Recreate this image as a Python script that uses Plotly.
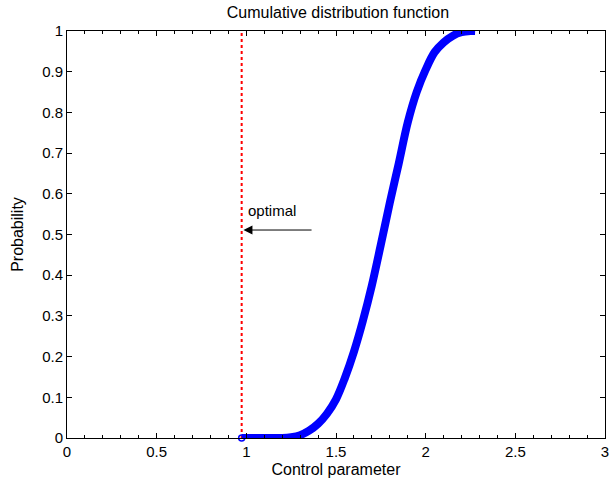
import plotly.graph_objects as go

# CDF curve
cdf_x = [0.974, 1.10, 1.20, 1.25, 1.30, 1.35, 1.40, 1.45, 1.50, 1.55, 1.60, 1.65, 1.70, 1.75,
         1.80, 1.85, 1.90, 1.95, 2.00, 2.05, 2.10, 2.15, 2.20, 2.25, 2.276]
cdf_y = [0.0, 0.0, 0.0, 0.002, 0.007, 0.018, 0.035, 0.060, 0.095, 0.148, 0.212, 0.288, 0.375, 0.475,
         0.578, 0.675, 0.775, 0.850, 0.905, 0.948, 0.972, 0.988, 0.997, 1.0, 1.0]

optimal_x = 0.974
optimal_label = "optimal"
arrow_y = 0.511
arrow_tail_x = 1.372

x_ticks = [0, 0.5, 1, 1.5, 2, 2.5, 3]
y_ticks = [0, 0.1, 0.2, 0.3, 0.4, 0.5, 0.6, 0.7, 0.8, 0.9, 1]

FONT = "Liberation Sans, Arial, sans-serif"

fig = go.Figure()
fig.add_trace(go.Scatter(x=[optimal_x, optimal_x], y=[0, 1], mode="lines",
                         line=dict(color="red", width=2, dash="dot"), showlegend=False))
fig.add_trace(go.Scatter(x=cdf_x, y=cdf_y, mode="lines",
                         line=dict(color="#0000ff", width=8, shape="spline", smoothing=1),
                         showlegend=False))
fig.add_trace(go.Scatter(x=[cdf_x[0]], y=[cdf_y[0]], mode="markers",
                         marker=dict(symbol="circle-open", color="#0000ff", size=6, line=dict(width=1.5)),
                         showlegend=False, cliponaxis=False))

fig.add_annotation(x=optimal_x + 0.01, y=arrow_y, ax=arrow_tail_x, ay=arrow_y,
                   xref="x", yref="y", axref="x", ayref="y", text="", showarrow=True,
                   arrowhead=2, arrowsize=1.8, arrowwidth=1, arrowcolor="black")
fig.add_annotation(x=1.0, y=0.558, xref="x", yref="y", text=optimal_label, showarrow=False,
                   xanchor="left", yanchor="middle", font=dict(size=15, color="black", family=FONT))

axis_common = dict(showgrid=False, zeroline=False, showline=True, linecolor="black", linewidth=1,
                   mirror="ticks", ticks="inside", ticklen=5, tickcolor="black",
                   ticklabeloverflow="allow",
                   tickfont=dict(size=15, color="black", family=FONT))

fig.update_xaxes(range=[0, 3], tickvals=x_ticks, ticktext=[str(v) for v in x_ticks],
                 title=dict(text="Control parameter", font=dict(size=16, color="black", family=FONT), standoff=4),
                 minor=dict(dtick=0.1, tick0=0, ticks="inside", ticklen=3, tickcolor="black"),
                 **axis_common)
fig.update_yaxes(range=[0, 1], tickvals=y_ticks, ticktext=[f"{v:g}" for v in y_ticks],
                 title=dict(text="Probability", font=dict(size=16, color="black", family=FONT), standoff=14),
                 **axis_common)

fig.update_layout(width=610, height=483, margin=dict(l=67, r=1, t=31, b=45),
                  plot_bgcolor="white", paper_bgcolor="white",
                  title=dict(text="Cumulative distribution function", x=0.554, xanchor="center",
                             y=0.975, yanchor="middle",
                             font=dict(size=16, color="black", family=FONT)),
                  font=dict(family=FONT, color="black"))

fig.write_html("out.html")
